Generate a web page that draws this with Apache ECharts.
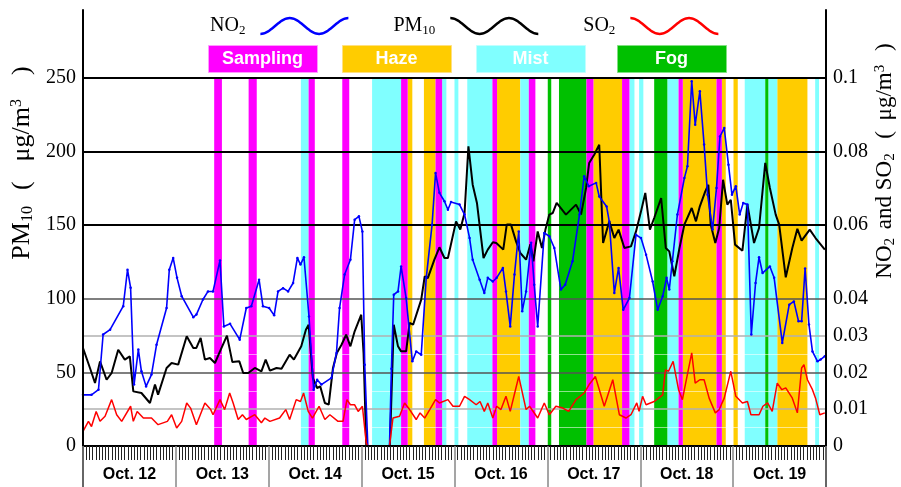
<!DOCTYPE html>
<html>
<head>
<meta charset="utf-8">
<script src="https://cdn.jsdelivr.net/npm/echarts@6/dist/echarts.min.js"></script>
<style>
html, body { margin: 0; padding: 0; background: #fff; }
#chart { width: 901px; height: 487px; }
</style>
</head>
<body>
<div id="chart"></div>
<script>
// x values are hours counted from Oct. 12 00:00
var days = ['Oct. 12', 'Oct. 13', 'Oct. 14', 'Oct. 15', 'Oct. 16', 'Oct. 17', 'Oct. 18', 'Oct. 19'];

var no2 = [[0,0.0139],[2.2,0.0139],[4,0.0153],[5.2,0.0303],[7,0.0316],[10.4,0.038],[11.5,0.0479],[12.3,0.043],[13.2,0.0167],
  [14.3,0.0262],[15.1,0.0203],[16.3,0.0162],[17.7,0.0194],[19,0.0275],[21.6,0.0375],[22.3,0.0479],[23.3,0.0511],[24.3,0.0457],
  [25.5,0.0407],[28.5,0.035],[29.3,0.0357],[31,0.0398],[32.3,0.042],[33.6,0.042],[35.4,0.0504],[36.4,0.0325],[38,0.0332],
  [40.5,0.0289],[42.2,0.0375],[43.5,0.038],[45.5,0.0452],[46.5,0.038],[48.1,0.0375],[49.4,0.0355],[50.4,0.042],[51.7,0.0429],
  [53,0.042],[54.3,0.0443],[55.4,0.0511],[56.2,0.0493],[57.1,0.0513],[58.4,0.0352],[59.6,0.0153],[60.5,0.018],[61.6,0.0167],
  [64.2,0.0185],[65.5,0.0253],[66.3,0.0375],[67.6,0.0466],[69.1,0.0506],[70.2,0.0615],[71.3,0.0624],[72.2,0.0583],[72.8,0.0221],
  [73.6,0],[79.2,0],[79.7,0.021],[80.3,0.0411],[81.4,0.042],[82.2,0.0488],[83.5,0.0402],[85.1,0.023],[86.1,0.0257],[87.4,0.0248],
  [88.7,0.0457],[90.2,0.0601],[91.1,0.0742],[92.1,0.0688],[93.4,0.0665],[94.3,0.0642],[95.1,0.0663],[97.3,0.0656],[98.6,0.0629],
  [99.9,0.0565],[100.7,0.0506],[102.5,0.0452],[103.7,0.0416],[104.6,0.0457],[105.9,0.0447],[106.9,0.0457],[108.5,0.0484],
  [109.3,0.042],[110.4,0.0325],[111.5,0.0466],[112.6,0.0583],[113.5,0.0366],[114.5,0.042],[115.8,0.0552],[116.6,0.0438],
  [117.5,0.0325],[119.2,0.0579],[120.5,0.057],[121.8,0.0538],[123.5,0.0425],[124.6,0.0438],[126.5,0.0502],[128.3,0.0629],
  [129.5,0.0733],[130.7,0.0706],[132.6,0.0715],[133.4,0.0678],[135.3,0.0651],[136,0.061],[137.3,0.0416],[138.4,0.0484],
  [139.6,0.037],[141.2,0.0402],[142.9,0.0574],[144.2,0.0565],[145.5,0.052],[147.2,0.0447],[148.5,0.037],[149.8,0.0407],
  [150.8,0.0457],[151.5,0.0425],[152.3,0.0502],[153.6,0.0629],[155.4,0.0728],[156.2,0.076],[157.3,0.0991],[158.2,0.0873],
  [159.4,0.0964],[160.5,0.0819],[161.4,0.0683],[162.7,0.0588],[163.7,0.0701],[164.6,0.0841],[165.7,0.0864],[166.8,0.0764],
  [167.7,0.0683],[168.7,0.0706],[169.7,0.0629],[170.6,0.066],[171.7,0.0656],[172.7,0.0303],[173.8,0.0443],[174.7,0.0513],
  [175.6,0.047],[177.5,0.0488],[178.6,0.0457],[180.7,0.028],[182.5,0.0384],[183.7,0.0393],[184.9,0.0339],[185.7,0.0339],
  [186.6,0.0482],[187.6,0.033],[188.5,0.0257],[189.8,0.023],[190.6,0.0235],[191.7,0.0244]];

var pm10 = [[0,66.6],[1.8,53],[3.1,42.8],[4.4,57.5],[6.1,45],[7.4,49.6],[9.1,65.4],[10.8,58.7],[12.1,60.9],[13,37.1],[15.1,36],
  [17.3,29.2],[18.6,41.7],[19.4,34.9],[21.6,53],[22.9,56.4],[24.6,55.3],[26.8,74.5],[28.5,66.6],[29.3,66.6],[30.4,73.4],
  [31.5,58.7],[32.8,59.8],[34.1,56.4],[35.4,64.3],[37.2,75],[38.6,57],[40.4,57.5],[41.4,49.6],[42.7,49.6],[44.4,53],[46.1,50.7],
  [47.2,58.7],[48.3,51.2],[50,53],[51.3,52.5],[53.4,62],[54.5,58.7],[56.4,67.7],[57.6,79],[58.3,82.4],[59.4,46.2],[60.5,39.4],
  [61.3,40.5],[62.5,29.2],[63.5,28.1],[64.6,53],[65.6,63.2],[66.8,68.8],[68,75.6],[69.1,67.7],[70.2,77.9],[71.9,89.2],
  [72.5,63.2],[73.2,0],[79.3,0],[80.3,82.4],[81.4,67.7],[82.2,64.3],[83.5,64.3],[84.4,83.6],[85.3,82.4],[87.4,99.4],
  [88.3,115.3],[89.1,114.1],[90.8,126.6],[92.1,135],[93.4,127.7],[94.3,127.7],[96.4,152.6],[97.5,147],[98.6,158.3],
  [99.6,203.6],[100.7,177.5],[101.8,165.1],[103.5,127.7],[104.6,133.4],[105.9,138.4],[106.8,137.9],[108.6,133.4],
  [109.5,150.4],[110.6,150.4],[111.9,139],[113,131.1],[114.5,126.6],[115.6,137],[116.4,125.5],[117.5,145.8],[118.6,134.5],
  [119.5,147],[120.5,157.2],[121.4,158.3],[122.4,165.1],[124.8,157.2],[127.4,164],[128.7,157.2],[130,175.3],[130.8,192.3],
  [132.1,197.9],[133.4,204.7],[134.4,137.9],[136,152.6],[137.3,141.3],[138.4,147],[139.9,134.5],[141.6,135.6],[142.9,145.8],
  [144.2,159.4],[145.3,171.9],[146.5,147],[147.6,154.9],[149.4,168.5],[150.6,134.5],[151.5,132.2],[152.8,115.3],[154.1,134],
  [155.4,150.4],[157.3,161.7],[158.4,152.6],[159.4,162.8],[160.8,173],[161.6,177.5],[162.2,150.4],[163.4,137.9],[164.4,148.1],
  [165.4,180.9],[166.5,164],[167.4,167.3],[168.5,136.8],[170.4,132.7],[171.7,164],[173.4,137.9],[174.7,148.1],[176.3,192.3],
  [177.5,175.3],[179,157.2],[179.9,150.4],[181.6,114.6],[183.3,134.5],[184.6,147.6],[185.7,139.5],[187.8,147],[189.3,141.3],
  [191.7,133.4]];

var so2 = [[0,0.004],[1.4,0.0067],[2.2,0.0053],[3.4,0.0094],[4.4,0.0067],[5.7,0.0081],[7.4,0.0126],[8.7,0.0085],[10,0.0067],
  [12.3,0.0108],[13,0.0067],[14,0.0094],[15.6,0.0076],[17.7,0.0076],[19.4,0.0058],[21.8,0.0067],[22.9,0.0085],[24.2,0.0049],
  [25.5,0.0067],[26.8,0.0117],[27.8,0.0103],[29.3,0.0058],[31.5,0.0117],[33,0.0099],[33.6,0.0085],[35.4,0.0126],[36.6,0.0099],
  [37.9,0.0144],[38.8,0.0117],[40.1,0.0072],[41.2,0.0085],[42.2,0.0072],[44.4,0.0085],[46.1,0.0063],[47,0.0076],[48.3,0.0067],
  [50.8,0.0076],[52.4,0.0099],[53.4,0.0072],[55.1,0.0126],[56.2,0.0121],[57,0.0144],[58.2,0.0094],[59.3,0.0076],[61,0.0108],
  [62.5,0.0072],[63.8,0.0085],[65.9,0.0067],[67.2,0.0067],[68.2,0.0126],[69.1,0.0112],[70.2,0.0112],[71.1,0.0094],[72.2,0.0108],
  [73.2,0.0008],[73.6,0],[79.2,0],[80.1,0.0076],[81.8,0.0081],[83.1,0.0117],[84.4,0.0099],[86.1,0.0072],[87.1,0.009],
  [88.3,0.0076],[89.6,0.0099],[91.1,0.0126],[92.1,0.0117],[94.3,0.0126],[95.6,0.0108],[97.3,0.0108],[98.6,0.0135],
  [99.9,0.0126],[101.6,0.0112],[102.6,0.0121],[103.7,0.0094],[104.6,0.0117],[105.9,0.0076],[106.9,0.0108],[108,0.0099],
  [109.3,0.0135],[110.4,0.0094],[112.6,0.0189],[114.5,0.0099],[115.4,0.0108],[117.5,0.0076],[119.2,0.0117],[120.5,0.0085],
  [122.2,0.0108],[124,0.0103],[125.5,0.0094],[127.4,0.0126],[129.5,0.0144],[130.8,0.0167],[132.4,0.0189],[134.7,0.0108],
  [136.9,0.018],[138.6,0.0085],[140.3,0.0076],[141.6,0.0085],[143.1,0.0117],[143.7,0.0094],[144.6,0.0135],[145.5,0.0112],
  [147.6,0.0121],[149.8,0.0139],[150.5,0.0207],[151.3,0.0203],[152.5,0.023],[153.9,0.0153],[154.9,0.0126],[155.4,0.0153],
  [157.3,0.0253],[158.2,0.0171],[159.4,0.018],[160.5,0.018],[161.8,0.013],[163.4,0.009],[164.4,0.0099],[165.7,0.013],
  [167.4,0.0203],[168.7,0.0135],[170.4,0.0117],[171.7,0.0121],[172.6,0.0085],[174.7,0.0085],[175.7,0.0108],[176.9,0.0117],
  [178.1,0.0094],[179.4,0.0171],[180.6,0.0153],[181.6,0.0158],[183.3,0.013],[184.6,0.009],[185.7,0.0212],[186.3,0.0221],
  [187.2,0.018],[188.5,0.0153],[189.3,0.013],[190.4,0.0085],[191.7,0.009]];

// weather / sampling periods, [start hour, end hour]
var sampling = [[33.9,35.9],[42.8,44.9],[58.3,59.9],[67.0,68.8],[82.2,83.9],[91.1,92.8],[105.8,107.0],[115.2,116.9],
  [130.1,131.9],[139.3,141.2],[153.9,155.0],[163.7,165.1]];
var haze = [[83.9,85.1],[88.1,91.1],[107.0,113.0],[131.9,139.3],[155.0,163.7],[165.1,166.1],[168.1,169.2],[179.4,187.2]];
var mist = [[56.3,58.3],[74.7,82.2],[92.8,93.9],[96.0,97.0],[99.3,105.8],[113.0,115.2],[141.2,142.5],[143.7,144.8],
  [151.0,153.9],[171.0,176.3],[177.1,179.4],[189.2,190.2]];
var fog = [[120.1,121.0],[123.0,130.1],[147.6,151.0],[176.3,177.1]];

// horizontal reference lines, in PM10 units (0.01 gas = 25)
var gridBold = [150, 200, 250];
var gridMid = [50, 100];
var gridLight = [25, 75];
var gridFaint = [12.5, 37.5, 62.5];
var pmLabels = [0, 50, 100, 150, 200, 250];
var gasLabels = [0, 0.01, 0.02, 0.03, 0.04, 0.06, 0.08, 0.1];

var SERIF = '"Liberation Serif", "DejaVu Serif", serif';
var SANS = '"Liberation Sans", Arial, sans-serif';

// y scale: 0 at y=446, 250 at y=78 -> 1.472 px per unit
var PX = 368 / 250;
var pmMin = -30, pmMax = 250 + 68 / PX;
var GAS = 0.1 / 250;

function waveIcon(startLow) {
  var n = 60, W = 100, A = 9, th = 2.8, c = 12.5, top = [], bot = [];
  var sg = startLow ? 1 : -1;
  for (var i = 0; i <= n; i++) {
    var t = i / n * 3 * Math.PI;
    var x = i / n * W, y = c + sg * A * Math.cos(t);
    var dx = W / (3 * Math.PI), dy = -sg * A * Math.sin(t);
    var len = Math.sqrt(dx * dx + dy * dy);
    var nx = -dy / len * th / 2, ny = dx / len * th / 2;
    top.push((x + nx).toFixed(2) + ' ' + (y + ny).toFixed(2));
    bot.push((x - nx).toFixed(2) + ' ' + (y - ny).toFixed(2));
  }
  return 'path://M' + top.join(' L') + ' L' + bot.reverse().join(' L') + ' Z';
}

function areas(list) {
  return list.map(function (b) {
    return [{ xAxis: b[0], yAxis: 0 }, { xAxis: b[1], yAxis: 250 }];
  });
}

function bandSeries(name, list, color) {
  return {
    name: name, type: 'line', data: [], xAxisIndex: 0, yAxisIndex: 0,
    markArea: { silent: true, z: 1, label: { show: false }, itemStyle: { color: color }, data: areas(list) }
  };
}

function refLines(list, color, width) {
  return list.map(function (v) {
    return { yAxis: v, lineStyle: { color: color, width: width, type: 'solid' } };
  });
}

var subName = { NO2: '{a|NO}{b|2}', PM10: '{a|PM}{b|10}', SO2: '{a|SO}{b|2}' };

var keyBoxes = [
  { text: 'Sampling', color: '#ff00ff', edge: '#ff99ff', x: 208 },
  { text: 'Haze', color: '#ffcc00', edge: '#ffe080', x: 342 },
  { text: 'Mist', color: '#80ffff', edge: '#c0ffff', x: 476 },
  { text: 'Fog', color: '#00c000', edge: '#80e080', x: 617 }
];

var graphics = [];
keyBoxes.forEach(function (k) {
  graphics.push({
    type: 'rect', left: k.x, top: 45, z: 10,
    shape: { width: 109, height: 27 },
    style: { fill: k.color, stroke: k.edge, lineWidth: 1 }
  });
  graphics.push({
    type: 'text', x: k.x + 54.5, y: 59, z: 11,
    style: {
      text: k.text, fill: '#fff', font: 'bold 18px ' + SANS, align: 'center', verticalAlign: 'middle',
      textShadowColor: '#333', textShadowOffsetX: 1.5, textShadowOffsetY: 1.5, textShadowBlur: 0
    }
  });
});

// rotated axis titles with sub / superscripts
function serif(size, pad) { return { fontFamily: SERIF, fontSize: size, color: '#000', padding: pad || 0 }; }
graphics.push({
  type: 'text', x: 22, y: 163, rotation: Math.PI / 2, z: 10,
  style: {
    text: '{a|PM}{sub|10}{p|(}{a|μg/m}{sup|3}{a|)}',
    rich: {
      a: serif(26), sub: serif(16, [11, 16, 0, 0]), sup: serif(16, [0, 24, 11, 0]), p: serif(26, [0, 20, 0, 0])
    },
    align: 'center', verticalAlign: 'middle'
  }
});
graphics.push({
  type: 'text', x: 885, y: 161, rotation: Math.PI / 2, z: 10,
  style: {
    text: '{a|NO}{sub|2}{a| and SO}{sub|2}{p|  (}{a| μg/m}{sup|3}{a| )}',
    rich: {
      a: serif(23), sub: serif(15, [10, 3, 0, 0]), sup: serif(15, [0, 8, 10, 0]), p: serif(23, [0, 5, 0, 0])
    },
    align: 'center', verticalAlign: 'middle'
  }
});

var chart = echarts.init(document.getElementById('chart'));
chart.setOption({
  animation: false,
  backgroundColor: '#fff',
  grid: { left: 83, right: 75, top: 10, bottom: 487 - (446 - pmMin * PX), outerBoundsMode: 'none', containLabel: false },
  legend: {
    data: [{ name: 'NO2', icon: waveIcon(true) }, { name: 'PM10', icon: waveIcon(false) }, { name: 'SO2', icon: waveIcon(false) }],
    left: 205, top: 11, align: 'right', itemWidth: 88, itemHeight: 22, itemGap: 45,
    selectedMode: false,
    itemStyle: { borderWidth: 0 },
    formatter: function (name) { return subName[name]; },
    textStyle: {
      padding: [0, 10, 0, 0],
      rich: {
        a: { fontFamily: SERIF, fontSize: 20, color: '#000' },
        b: { fontFamily: SERIF, fontSize: 13, color: '#000', padding: [9, 0, 0, 0] }
      }
    }
  },
  xAxis: [{
    type: 'value', min: 0, max: 192, interval: 24, position: 'bottom', z: 4,
    axisLine: { onZero: true, lineStyle: { color: '#000', width: 2 } },
    axisTick: { show: true, length: 41, lineStyle: { color: '#888', width: 1.5 } },
    minorTick: { show: true, splitNumber: 29, length: 14, lineStyle: { color: '#222', width: 1 } },
    axisLabel: { show: false },
    splitLine: { show: false }
  }, {
    type: 'category', data: days, position: 'bottom', z: 4,
    offset: pmMin * PX,
    axisLine: { show: false, onZero: false },
    axisTick: { show: false },
    axisLabel: { margin: 21, fontFamily: SANS, fontSize: 16, fontWeight: 'bold', color: '#000' },
    splitLine: { show: false }
  }],
  yAxis: [{
    type: 'value', min: pmMin, max: pmMax, interval: 10, position: 'left', z: 4,
    axisLine: { show: true, lineStyle: { color: '#000', width: 2 } },
    axisTick: { show: false },
    splitLine: { show: false },
    axisLabel: {
      margin: 7, fontFamily: SERIF, fontSize: 20, color: '#000',
      formatter: function (v) { var k = Math.round(v); return pmLabels.indexOf(k) >= 0 && Math.abs(v - k) < 1e-6 ? String(k) : ''; }
    }
  }, {
    type: 'value', min: pmMin * GAS, max: pmMax * GAS, interval: 0.002, position: 'right', z: 4,
    axisLine: { show: true, lineStyle: { color: '#000', width: 2 } },
    axisTick: { show: false },
    splitLine: { show: false },
    axisLabel: {
      margin: 7, fontFamily: SERIF, fontSize: 20, color: '#000',
      formatter: function (v) {
        var k = Math.round(v * 1000);
        for (var i = 0; i < gasLabels.length; i++) {
          if (Math.round(gasLabels[i] * 1000) === k) return k === 0 ? '0' : String(gasLabels[i]);
        }
        return '';
      }
    }
  }],
  graphic: graphics,
  series: [
    bandSeries('Haze', haze, '#ffcc00'),
    bandSeries('Mist', mist, '#80ffff'),
    bandSeries('Fog', fog, '#00c000'),
    bandSeries('Sampling', sampling, '#ff00ff'),
    {
      name: 'grid', type: 'line', data: [], xAxisIndex: 0, yAxisIndex: 0,
      markLine: {
        silent: true, z: 2, symbol: 'none', label: { show: false },
        data: refLines(gridFaint, 'rgba(255,255,255,0.55)', 1)
          .concat(refLines(gridLight, '#b0b0b0', 1.5))
          .concat(refLines(gridMid, '#555', 1.5))
          .concat(refLines(gridBold, '#000', 2))
      }
    },
    {
      name: 'PM10', type: 'line', data: pm10, xAxisIndex: 0, yAxisIndex: 0, z: 3,
      showSymbol: false, color: '#000', lineStyle: { color: '#000', width: 2 }
    },
    {
      name: 'NO2', type: 'line', data: no2, xAxisIndex: 0, yAxisIndex: 1, z: 3,
      symbol: 'circle', symbolSize: 2.5, color: '#0000ff', lineStyle: { color: '#0000ff', width: 1.6 },
      itemStyle: { color: '#0000ff' }
    },
    {
      name: 'SO2', type: 'line', data: so2, xAxisIndex: 0, yAxisIndex: 1, z: 3,
      showSymbol: false, color: '#ff0000', lineStyle: { color: '#ff0000', width: 1.5 }
    }
  ]
});
</script>
</body>
</html>
